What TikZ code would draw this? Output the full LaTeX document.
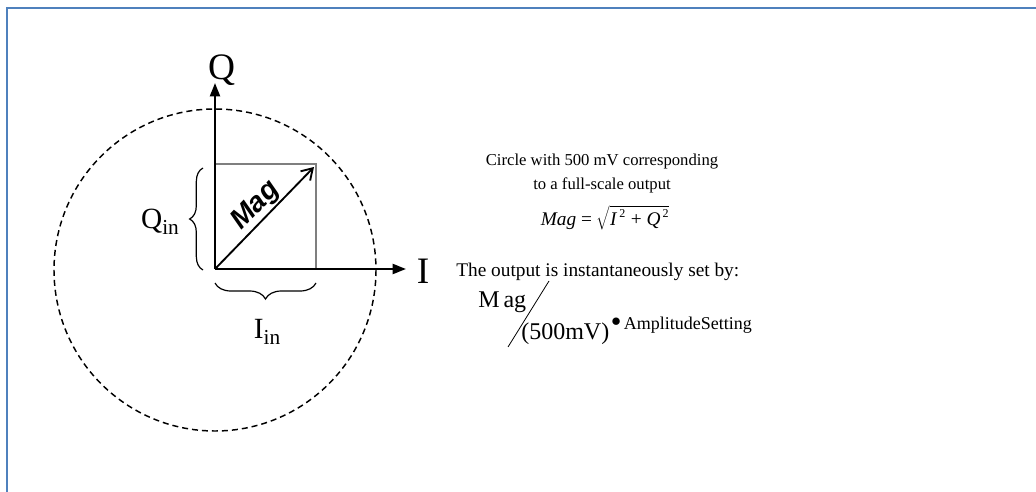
\documentclass[tikz,border=0pt]{standalone}
\usepackage{fontspec}
\setmainfont{Liberation Serif}
\newfontfamily\magfont{Liberation Sans}
\usepackage{tikz}
\usetikzlibrary{positioning,arrows.meta,decorations.pathreplacing}
\definecolor{frameblue}{HTML}{4F81BD}
\definecolor{boxgray}{HTML}{7F7F7F}
\tikzset{
  axisline/.style={
    -{Triangle[length=10pt,width=7.5pt]},
    line width=1.5pt, draw=black
  },
  sqline/.style={draw=boxgray, line width=1pt},
  magvec/.style={
    -{Straight Barb[length=8pt,width=10pt]},
    line width=1.4pt, draw=black
  },
  ring/.style={dashed, dash pattern=on 4.5pt off 3pt, line width=1.1pt},
  curly/.style={decorate, line width=0.9pt},
  biglbl/.style={font=\fontsize{28}{30}\selectfont, inner sep=0pt},
  midlbl/.style={font=\fontsize{22}{24}\selectfont, inner sep=0pt},
  txt/.style={font=\fontsize{14.5}{19}\selectfont, inner sep=0pt},
  smalltxt/.style={font=\fontsize{12.5}{18}\selectfont, inner sep=0pt},
  fractxt/.style={font=\fontsize{18}{20}\selectfont, inner sep=0pt},
}

\begin{document}
\begin{tikzpicture}[x=0.75pt, y=-0.75pt]
  \useasboundingbox (0,0) rectangle (1036,492);
  \draw[frameblue, line width=1.6pt] (7,492) -- (7,8) -- (1036,8);
  \coordinate (O) at (215,269);
  \coordinate (qtip) at (215,83);
  \coordinate (itip) at (406,269);
  \coordinate (qs) at (215,164);
  \coordinate (cr) at (316,164);
  \coordinate (is) at (316,269);
  \coordinate (mtip) at (314,167);
  \draw[ring] (215,270) circle[radius=161];
  \draw[sqline] (qs) -- (cr) -- (is);
  \draw[axisline] (O) -- (qtip);
  \draw[axisline] (O) -- (itip);
  \draw[magvec] (O) -- (mtip) node[pos=0.52, above=0.5pt, sloped, font=\magfont\bfseries\itshape\fontsize{21}{21}\selectfont, inner sep=0pt] (magtxt) {Mag};
  \node[biglbl, above=1pt of qtip, xshift=5pt, yshift=-3pt] (qlab) {Q};
  \node[biglbl, right=8pt of itip, yshift=-2pt] (ilab) {I};
  \draw[curly, decoration={brace, amplitude=10pt}] (203,270) -- (203,168);
  \draw[curly, decoration={brace, amplitude=12pt}] (316,283) -- (215,283);
  \node[midlbl] (qin) at (160,222) {Q\raisebox{-0.22em}{\fontsize{16}{16}\selectfont in}};
  \node[midlbl] (iin) at (267,332) {I\raisebox{-0.22em}{\fontsize{16}{16}\selectfont in}};
  \node[smalltxt, align=center] (circtxt) at (602,173) {Circle with 500 mV corresponding\\to a full-scale output};
  \node[txt] (magf) at (605,218) {\textit{Mag} = $\sqrt{\mbox{\textit{I}}^{\mbox{\fontsize{9}{9}\selectfont\,2}}\mbox{ + }\mbox{\textit{Q}}^{\mbox{\fontsize{9}{9}\selectfont\,2}}}$};
  \node[txt, anchor=west] (outtxt) at (456,272) {The output is instantaneously set by:};
  \node[fractxt, anchor=base west] (num) at (478,307) {M\kern3pt ag};
  \node[fractxt, anchor=base west] (den) at (521,339) {(500mV)};
  \draw[line width=0.6pt] (549,281) -- (508,347);
  \node[font=\fontsize{13.5}{16}\selectfont, inner sep=0pt, anchor=base west] (amp) at (611,329) {\raisebox{0.15em}{$\bullet$}\,AmplitudeSetting};
\end{tikzpicture}
\end{document}
